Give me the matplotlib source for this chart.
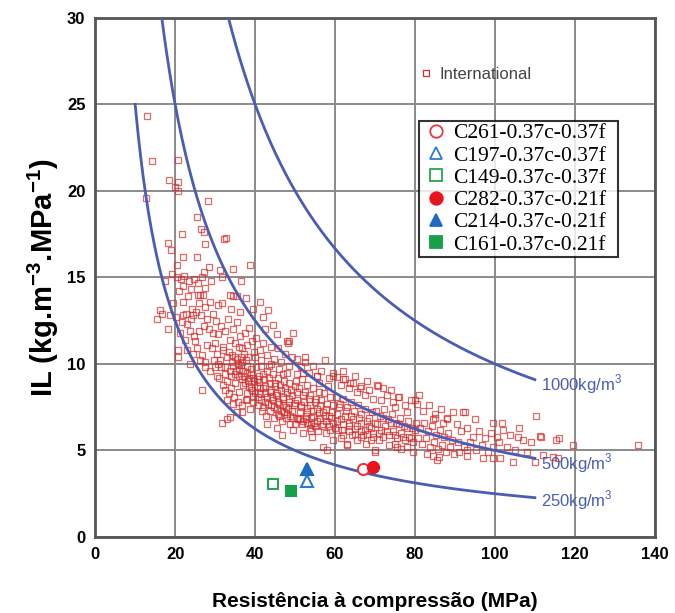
import numpy as np
import matplotlib
matplotlib.use("Agg")
import matplotlib.pyplot as plt
from matplotlib.lines import Line2D

plt.rcParams["mathtext.fontset"] = "custom"
plt.rcParams["mathtext.rm"] = "Liberation Sans"
plt.rcParams["mathtext.bf"] = "Liberation Sans:bold"

# International data (x = MPa, y = IL)
intl_pts = [
    # 10-20 MPa
    (12.9, 24.3), (14.3, 21.7), (12.7, 19.6), (18.5, 20.6), (20.7, 21.8), (18.3, 17.0), (18.9, 16.6),
    (16.2, 13.1), (16.7, 12.9), (18.8, 12.8), (18.3, 12.0), (19.5, 13.5), (17.5, 14.8), (19.2, 15.2),
    (15.5, 12.6),
    # 20-30
    (20.7, 20.5), (20.0, 20.2), (20.8, 20.0), (28.2, 19.4), (25.4, 18.5), (26.5, 17.8), (27.3, 17.6),
    (27.5, 16.9), (25.4, 16.2), (20.4, 15.7), (27.3, 15.3), (20.5, 15.0), (21.5, 14.9), (22.3, 15.1),
    (23.5, 14.8), (24.6, 14.9), (25.8, 14.7), (26.8, 15.0), (27.5, 14.4), (27.0, 14.0), (25.8, 14.0),
    (21.0, 14.2), (22.0, 13.6), (23.2, 13.9), (24.2, 13.2), (20.3, 12.7), (21.6, 12.4), (22.8, 12.9),
    (24.0, 12.6), (25.2, 13.0), (26.4, 12.8), (27.6, 13.3), (28.8, 13.6), (29.5, 12.9), (21.2, 11.8),
    (22.5, 11.4), (23.6, 11.9), (24.8, 11.6), (26.0, 11.9), (27.2, 12.2), (28.4, 12.0), (29.6, 11.8),
    (23.0, 10.8), (24.5, 10.6), (25.6, 10.9), (26.8, 10.5), (28.0, 11.1), (29.2, 10.9), (27.5, 9.8),
    (28.8, 9.6), (29.8, 10.2), (26.2, 10.2), (29.0, 14.8), (28.5, 15.6), (22.0, 16.2), (21.8, 17.5),
    (20.8, 10.8), (20.8, 10.4), (23.75, 10.0), (27.5, 10.1), (26.25, 14.0), (24.5, 12.8), (26.7, 8.5),
    (22.0, 12.8), (25.0, 11.3), (23.0, 12.3), (22.0, 14.5), (24.0, 14.3), (26.0, 13.5), (28.0, 12.6),
    # 30-40
    (31.25, 15.4), (31.7, 15.0), (34.4, 15.5), (32.3, 17.2), (32.8, 17.3), (33.75, 14.0), (35.4, 13.9),
    (38.75, 15.7), (36.5, 14.8), (37.8, 13.8), (39.5, 13.2), (34.5, 13.9), (30.8, 13.4),
    (30.2, 12.5), (30.8, 11.7), (31.5, 12.2), (32.0, 11.0), (32.6, 11.9), (33.2, 12.6), (33.8, 11.4),
    (34.4, 12.0), (35.0, 11.2), (35.6, 12.4), (36.2, 11.6), (36.8, 10.9), (37.4, 11.8), (38.0, 11.1),
    (38.6, 12.1), (39.2, 11.3), (39.8, 10.7), (30.5, 10.6), (31.2, 10.2), (31.9, 10.8), (32.5, 9.8),
    (33.1, 10.4), (33.7, 9.6), (34.3, 10.1), (34.9, 9.4), (35.5, 10.3), (36.1, 9.7), (36.7, 10.1),
    (37.3, 9.3), (37.9, 9.9), (38.5, 9.2), (39.1, 9.7), (39.7, 9.0), (31.0, 9.2), (32.0, 8.8),
    (33.0, 9.0), (34.0, 8.6), (35.0, 8.9), (36.0, 8.4), (37.0, 8.8), (38.0, 8.3), (39.0, 8.6),
    (35.8, 7.8), (36.8, 7.6), (37.8, 7.9), (38.8, 7.4), (39.6, 7.8), (34.8, 8.1), (33.5, 8.3),
    (37.2, 10.6), (38.3, 10.4), (36.3, 13.0), (34.0, 13.2), (31.8, 13.5), (30.0, 11.2),
    (30.8, 10.0), (30.4, 9.3), (32.5, 8.5), (33.0, 7.9), (34.6, 7.7), (35.4, 7.2), (33.75, 6.96),
    (36.7, 7.2), (33.0, 6.8), (31.7, 6.6),
    (34.5, 9.9), (35.2, 9.6), (36.0, 9.3), (36.8, 9.1), (37.6, 8.9), (38.4, 8.7), (39.2, 8.5),
    (35.0, 10.4), (36.5, 9.95), (38.0, 9.5), (39.5, 9.2),
    (33.5, 10.7), (34.2, 10.5), (35.8, 10.0), (36.4, 10.4), (37.0, 9.6), (37.7, 10.2), (38.2, 9.0),
    (38.9, 9.4), (39.4, 8.1), (36.0, 11.0), (38.0, 8.0), (34.0, 9.3), (32.5, 9.4), (31.5, 9.8),
    (30.0, 9.8),
    # 40-50
    (40.3, 11.5), (41.2, 10.8), (42.1, 11.2), (43.0, 10.5), (43.9, 11.0), (44.8, 10.3), (45.7, 10.9),
    (46.6, 10.1), (47.5, 10.6), (48.4, 9.9), (49.3, 10.4), (40.2, 9.8), (40.9, 9.3), (41.6, 9.9),
    (42.3, 9.1), (43.0, 9.6), (43.7, 8.9), (44.4, 9.4), (45.1, 8.7), (45.8, 9.2), (46.5, 8.5),
    (47.2, 9.0), (47.9, 8.4), (48.6, 8.9), (49.3, 8.2), (49.9, 8.7), (40.5, 8.7), (41.3, 8.3),
    (42.1, 8.6), (42.9, 8.1), (43.7, 8.4), (44.5, 7.9), (45.3, 8.2), (46.1, 7.7), (46.9, 8.0),
    (47.7, 7.5), (48.5, 7.8), (49.3, 7.3), (40.8, 7.6), (41.8, 7.3), (42.8, 7.0), (43.8, 7.3),
    (44.8, 6.9), (45.8, 7.1), (46.8, 6.7), (47.8, 6.9), (48.8, 6.5), (43.0, 6.5), (46.7, 5.9),
    (45.5, 6.3), (49.6, 6.2), (41.5, 10.2), (44.0, 10.0), (46.0, 9.7), (48.0, 9.5), (42.5, 12.0),
    (45.5, 11.7), (48.5, 11.3), (41.25, 13.6), (43.25, 13.1), (42.0, 12.7), (44.5, 12.25),
    (49.5, 11.8), (47.9, 11.3), (48.25, 11.2),
    (40.0, 8.3), (40.8, 8.1), (41.6, 7.9), (42.4, 7.8), (43.2, 7.7), (44.0, 7.6), (44.8, 7.5),
    (45.6, 7.4), (46.4, 7.3), (47.2, 7.2), (48.0, 7.1), (48.8, 7.0), (49.6, 6.9),
    (41.0, 8.95), (42.5, 8.75), (44.0, 8.5), (45.5, 8.3), (47.0, 8.1), (48.5, 7.95),
    (40.5, 9.1), (41.2, 8.6), (41.9, 9.4), (42.6, 8.3), (43.4, 9.2), (44.2, 8.1), (44.9, 8.9),
    (45.7, 7.8), (46.3, 8.8), (47.0, 7.6), (47.6, 8.6), (48.3, 7.4), (49.0, 8.5), (49.8, 7.6),
    (40.0, 10.4), (43.5, 9.9), (47.0, 9.4), (42.0, 7.5), (46.0, 7.0),
    # 50-60
    (50.5, 10.3), (51.5, 9.8), (52.5, 10.1), (53.5, 9.5), (54.5, 9.9), (55.5, 9.3), (56.5, 9.6),
    (57.5, 10.2), (58.5, 9.2), (59.5, 9.5), (50.3, 9.0), (51.0, 8.6), (51.7, 9.1), (52.4, 8.4),
    (53.1, 8.8), (53.8, 8.2), (54.5, 8.6), (55.2, 8.0), (55.9, 8.4), (56.6, 7.9), (57.3, 8.3),
    (58.0, 7.7), (58.7, 8.1), (59.4, 7.6), (50.6, 7.9), (51.4, 7.5), (52.2, 7.8), (53.0, 7.2),
    (53.8, 7.6), (54.6, 7.0), (55.4, 7.4), (56.2, 6.9), (57.0, 7.2), (57.8, 6.7), (58.6, 7.0),
    (59.4, 6.6), (50.8, 6.8), (51.8, 6.5), (52.8, 6.8), (53.8, 6.3), (54.8, 6.6), (55.8, 6.1),
    (56.8, 6.4), (57.8, 6.0), (58.8, 6.2), (54.2, 5.8), (57.0, 5.2), (58.0, 5.0), (52.0, 6.0),
    (59.6, 5.6), (52.0, 9.5), (56.0, 8.9), (58.3, 8.7), (52.5, 10.4), (55.5, 9.3),
    (50.4, 6.9), (51.2, 6.8), (52.0, 6.7), (53.0, 6.6), (54.0, 6.5), (55.0, 6.4),
    (50.0, 7.75), (51.5, 7.6), (53.0, 7.45), (54.5, 7.3), (56.0, 7.15), (57.5, 7.0), (59.0, 6.85),
    (59.6, 9.3), (50.5, 8.4), (51.2, 7.2), (51.9, 8.2), (52.7, 7.0), (53.4, 8.0), (54.1, 6.9),
    (54.9, 7.8), (55.6, 6.7), (56.3, 7.6), (57.1, 6.5), (57.8, 7.4), (58.5, 6.4), (59.2, 7.2),
    (50.5, 9.4), (50.0, 6.5), (54.0, 6.1),
    # 60-70
    (60.5, 9.25), (61.5, 8.8), (62.5, 9.1), (63.5, 8.6), (64.5, 8.9), (65.5, 8.4), (66.5, 8.7),
    (67.5, 8.2), (68.5, 8.5), (69.5, 8.0), (60.3, 8.1), (61.2, 7.7), (62.1, 8.0), (63.0, 7.5),
    (63.9, 7.8), (64.8, 7.3), (65.7, 7.6), (66.6, 7.1), (67.5, 7.4), (68.4, 6.9), (69.3, 7.2),
    (60.6, 7.1), (61.6, 6.8), (62.6, 7.0), (63.6, 6.6), (64.6, 6.8), (65.6, 6.4), (66.6, 6.6),
    (67.6, 6.2), (68.6, 6.4), (69.6, 6.0), (60.8, 6.2), (62.0, 5.9), (63.0, 5.4), (64.2, 5.9),
    (65.4, 5.6), (66.6, 5.8), (67.8, 5.4), (69.0, 5.6), (70.0, 5.0), (61.5, 5.7), (62.0, 9.6),
    (65.0, 9.3), (68.0, 9.0), (62.0, 9.1), (63.75, 8.9), (66.25, 8.6),
    (60.5, 6.7), (62.0, 6.55), (63.5, 6.4), (65.0, 6.25), (66.5, 6.1), (68.0, 5.95), (69.5, 5.8),
    (63.0, 5.3), (60.0, 6.3), (60.9, 7.5), (61.8, 6.2), (62.7, 7.3), (63.4, 6.1), (64.1, 7.0),
    (65.1, 5.95), (66.0, 6.9), (67.0, 5.9), (68.0, 6.7), (69.0, 6.3),
    # 70-80
    (70.5, 8.8), (72.0, 8.6), (71.5, 7.9), (73.0, 8.2), (74.5, 7.8), (76.0, 8.1), (77.5, 7.6),
    (79.0, 7.9), (70.3, 7.3), (71.3, 7.0), (72.3, 7.4), (73.3, 6.8), (74.3, 7.1), (75.3, 6.6),
    (76.3, 6.9), (77.3, 6.4), (78.3, 6.7), (79.3, 6.3), (70.6, 6.5), (71.6, 6.2), (72.6, 6.4),
    (73.6, 5.9), (74.6, 6.1), (75.6, 5.7), (76.6, 6.0), (77.6, 5.6), (78.6, 5.8), (79.6, 5.5),
    (71.0, 5.6), (72.0, 5.8), (73.5, 5.3), (75.0, 5.4), (76.5, 5.1), (78.0, 5.2), (79.5, 4.9),
    (75.0, 7.5), (78.0, 7.2), (74.0, 8.5), (70.75, 8.7), (75.75, 8.1), (70.0, 4.9), (75.4, 5.2),
    (70.0, 6.6), (71.0, 6.0), (72.0, 6.9), (73.0, 6.1), (74.0, 6.6), (75.0, 5.9), (76.0, 6.5),
    (77.0, 5.8), (78.0, 6.3), (79.0, 5.7),
    # 80-90
    (80.5, 7.7), (82.0, 7.3), (83.5, 7.6), (85.0, 7.1), (86.5, 7.4), (88.0, 6.9), (89.5, 7.2),
    (80.3, 6.6), (81.3, 6.3), (82.3, 6.6), (83.3, 6.1), (84.3, 6.4), (85.3, 5.9), (86.3, 6.2),
    (87.3, 5.8), (88.3, 6.0), (89.3, 5.6), (80.8, 5.7), (81.8, 5.4), (82.8, 5.7), (83.8, 5.2),
    (84.8, 5.5), (85.8, 5.1), (86.8, 5.3), (87.8, 4.9), (88.8, 5.2), (89.8, 4.8), (81.0, 8.2),
    (84.5, 6.8), (87.0, 6.6), (83.0, 4.8), (86.0, 4.6), (80.0, 7.9), (85.0, 6.9), (88.0, 6.8),
    (85.4, 4.45), (84.5, 4.7), (80.0, 6.2),
    # 90-100
    (92.0, 7.2), (95.0, 6.8), (99.6, 6.6), (90.5, 6.5), (91.5, 6.1), (93.0, 6.3), (94.5, 5.8),
    (96.0, 6.1), (97.5, 5.7), (99.0, 6.0), (90.8, 5.5), (92.3, 5.2), (93.8, 5.5), (95.3, 5.0),
    (96.8, 5.3), (98.3, 4.9), (99.5, 5.2), (97.0, 4.57), (99.6, 4.57), (93.0, 4.7), (91.0, 4.9),
    (92.5, 7.2), (93.0, 5.0),
    # 100-110
    (101.7, 6.6), (106.0, 6.3), (102.0, 6.2), (103.75, 5.9), (105.75, 5.8), (107.0, 5.6),
    (109.0, 5.5), (101.3, 4.57), (104.6, 4.35), (110.0, 4.35), (101.0, 5.5), (103.0, 5.2),
    (105.0, 5.0), (108.0, 4.9), (100.5, 5.8),
    # > 110
    (110.25, 7.0), (111.25, 5.84), (111.6, 5.8), (115.4, 5.6), (116.0, 5.7), (119.6, 5.3),
    (135.75, 5.3), (112.0, 4.74), (114.6, 4.6), (115.8, 4.57),
]
intl_x = [p[0] for p in intl_pts]
intl_y = [p[1] for p in intl_pts]

# the six mixes of this study
mix_names = ["C261-0.37c-0.37f", "C197-0.37c-0.37f", "C149-0.37c-0.37f",
             "C282-0.37c-0.21f", "C214-0.37c-0.21f", "C161-0.37c-0.21f"]
mix_x = [67.0, 53.0, 44.5, 69.5, 53.0, 49.0]
mix_y = [3.93, 3.25, 3.05, 4.05, 3.9, 2.65]
mix_marker = ["o", "^", "s", "o", "^", "s"]
mix_color = ["#e8383b", "#2a7bd0", "#22a552", "#e8141b", "#1f6bc4", "#17a04a"]
mix_filled = [False, False, False, True, True, True]

# iso binder-intensity curves
binder = [250, 500, 1000]
curve_x0 = [10, 16.7, 33.3]
curve_x1 = 110
curve_labels = ["250kg/m$^3$", "500kg/m$^3$", "1000kg/m$^3$"]
curve_label_y = [2.1, 4.25, 8.85]

blue = "#4a5db5"
red = "#d42a2a"

fig = plt.figure(figsize=(6.75, 6.13), dpi=100)
ax = fig.add_axes([0.141, 0.124, 0.829, 0.847])

ax.set_xlim(0, 140)
ax.set_ylim(0, 30)
ax.set_xticks(range(0, 141, 20))
ax.set_yticks(range(0, 31, 5))
ax.grid(True, color="#8a8a8a", linewidth=1.4)
ax.set_axisbelow(True)
for s in ax.spines.values():
    s.set_color("#555555")
    s.set_linewidth(2.0)
ax.tick_params(length=0, pad=7, labelsize=12)
for lab in ax.get_xticklabels() + ax.get_yticklabels():
    lab.set_fontfamily("Liberation Sans")
    lab.set_fontweight("bold")

for b, x0, lab, ly in zip(binder, curve_x0, curve_labels, curve_label_y):
    xs = np.linspace(x0, curve_x1, 300)
    ax.plot(xs, b / xs, color=blue, linewidth=2.0, zorder=3)
    ax.text(curve_x1 + 1.5, ly, lab, color=blue, fontsize=12,
            family="Liberation Sans", va="center", ha="left")

ax.plot(intl_x, intl_y, linestyle="none", marker="s", markersize=4.8,
        markerfacecolor="none", markeredgecolor=red, markeredgewidth=0.9,
        alpha=0.7, zorder=2)

handles = []
for i in range(len(mix_names)):
    fc = mix_color[i] if mix_filled[i] else "white"
    ms = 8 if mix_marker[i] != "s" else 7.5
    ax.plot(mix_x[i], mix_y[i], linestyle="none", marker=mix_marker[i], markersize=ms,
            markerfacecolor=fc, markeredgecolor=mix_color[i], markeredgewidth=1.5, zorder=5)
    handles.append(Line2D([], [], linestyle="none", marker=mix_marker[i], markersize=ms + 1,
                          markerfacecolor=fc if mix_filled[i] else "none",
                          markeredgecolor=mix_color[i], markeredgewidth=1.3))

h_int = Line2D([], [], linestyle="none", marker="s", markersize=4.6, markerfacecolor="none",
               markeredgecolor=red, markeredgewidth=0.9)
leg1 = ax.legend([h_int], ["International"], loc="upper left", bbox_to_anchor=(0.583, 0.905),
                 frameon=False, borderaxespad=0, borderpad=0, handlelength=0.6,
                 handletextpad=0.5, prop={"family": "Liberation Sans", "size": 12})
for t in leg1.get_texts():
    t.set_color("#444444")
ax.add_artist(leg1)

leg2 = ax.legend(handles, mix_names, loc="upper left",
                 bbox_to_anchor=(0.579, 0.5, 0.355, 0.3015), mode="expand",
                 frameon=True, fancybox=False, borderaxespad=0, borderpad=0.12,
                 handlelength=1.3, handletextpad=0.15, labelspacing=0.1,
                 prop={"family": "Liberation Serif", "size": 15.5})
leg2.get_frame().set_edgecolor("black")
leg2.get_frame().set_linewidth(1.5)
leg2.set_zorder(6)

ax.set_xlabel("Resistência à compressão (MPa)", fontsize=15, fontweight="bold",
              family="Liberation Sans", labelpad=22)
ax.set_ylabel("IL (kg.m$^{\\mathbf{-3}}$.MPa$^{\\mathbf{-1}}$)", fontsize=21, fontweight="bold",
              family="Liberation Sans", labelpad=4)

fig.savefig("out.png", dpi=100)
